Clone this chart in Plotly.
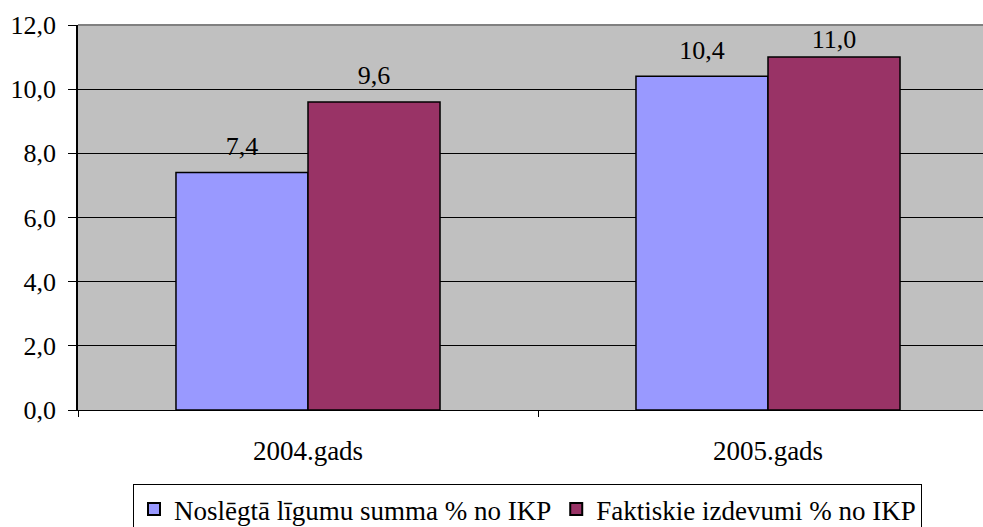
import plotly.graph_objects as go

categories = ["2004.gads", "2005.gads"]
series_names = ["Noslēgtā līgumu summa % no IKP", "Faktiskie izdevumi % no IKP"]
contract_values = [7.4, 10.4]
actual_values = [9.6, 11.0]
y_ticks = [0, 2, 4, 6, 8, 10, 12]

FONT = "Liberation Serif"
fs = 26
GAP = 0.426

fig = go.Figure()
for name, vals, color in [(series_names[0], contract_values, "#9999FF"),
                          (series_names[1], actual_values, "#993366")]:
    fig.add_trace(go.Bar(
        x=categories, y=vals, name=name,
        marker=dict(color=color, line=dict(color="black", width=1.5)),
    ))
# data labels (marker size used only as a label offset; last one clamped like the original)
for vals, sizes in [(contract_values, [16, 16]), (actual_values, [17, 3])]:
    fig.add_trace(go.Scatter(
        x=categories, y=vals, mode="markers+text", showlegend=False,
        marker=dict(size=sizes, opacity=0),
        texttemplate="%{y:.1f}", textposition="top center",
        textfont=dict(family=FONT, size=fs, color="black"),
        cliponaxis=False, hoverinfo="skip",
    ))

fig.update_layout(
    width=983, height=527,
    margin=dict(l=78, r=0, t=25, b=117, autoexpand=False),
    paper_bgcolor="white", plot_bgcolor="#C0C0C0",
    separators=", ",
    barmode="group", bargap=GAP, bargroupgap=0,
    scattermode="group", scattergap=GAP,
    font=dict(family=FONT, size=fs, color="black"),
    showlegend=True,
    legend=dict(
        orientation="h", x=(133 - 78) / 905, xanchor="left",
        y=(410 - 484) / 385, yanchor="top",
        bordercolor="black", borderwidth=1, bgcolor="white",
        font=dict(family=FONT, size=27, color="black"),
        itemsizing="constant", tracegroupgap=0,
    ),
    xaxis=dict(
        type="category", range=[-0.5, 1.5 - 15 / 460], automargin=False,
        showline=True, linecolor="black", linewidth=1,
        ticks="outside", tickson="boundaries", ticklen=6, tickcolor="black",
        showgrid=False, tickfont=dict(family=FONT, size=27, color="black"),
        ticklabelstandoff=17,
    ),
    yaxis=dict(
        range=[0, 12], tickvals=y_ticks, tickformat=".1f", automargin=False,
        showline=True, linecolor="black", linewidth=1.5,
        ticks="outside", ticklen=8, tickcolor="black",
        showgrid=True, gridcolor="black", gridwidth=1,
        zeroline=False,
        tickfont=dict(family=FONT, size=fs, color="black"),
        ticklabelstandoff=7,
    ),
)
fig.add_shape(type="line", xref="paper", yref="paper", x0=0, x1=1, y0=1, y1=1,
              line=dict(color="#808080", width=2), layer="above")

fig.write_html("out.html", config={"displayModeBar": False},
               post_script="document.body.style.margin='0';document.body.style.overflow='hidden';")
